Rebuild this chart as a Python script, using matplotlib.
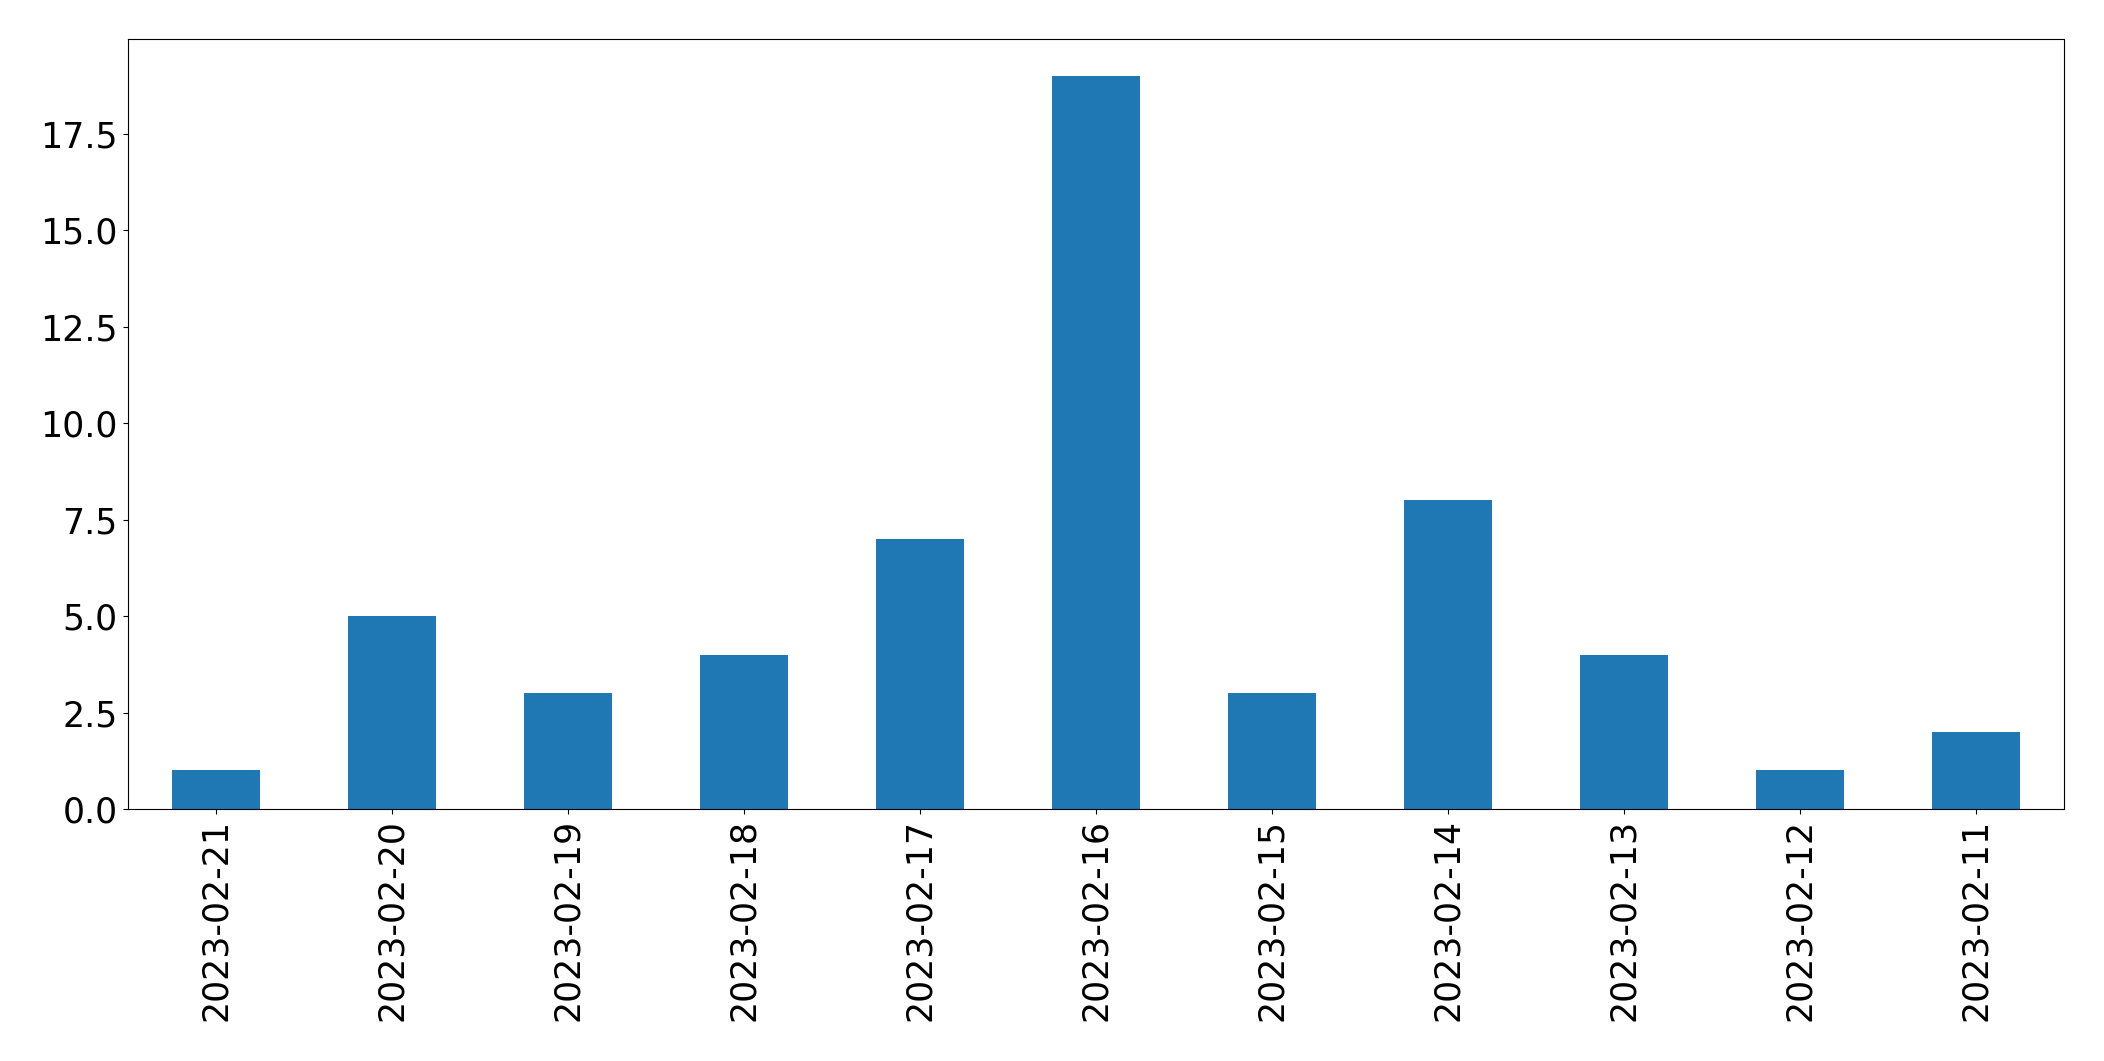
import matplotlib
matplotlib.use("Agg")
import matplotlib.pyplot as plt

dates = ["2023-02-21", "2023-02-20", "2023-02-19", "2023-02-18", "2023-02-17",
         "2023-02-16", "2023-02-15", "2023-02-14", "2023-02-13", "2023-02-12", "2023-02-11"]
counts = [1, 5, 3, 4, 7, 19, 3, 8, 4, 1, 2]

fig = plt.figure(figsize=(21.04, 10.61), dpi=100)
ax = fig.add_axes([0.0606, 0.2375, 0.9204, 0.7255])
x = range(len(dates))
ax.bar(x, counts, width=0.5, color="#1f77b4")
ax.set_xticks(list(x))
ax.set_xticklabels(dates, rotation=90)
ax.set_xlim(-0.5, len(dates) - 0.5)
ax.set_ylim(0, max(counts) * 1.05)
ax.tick_params(axis="both", labelsize=25)
fig.savefig("out.png", dpi=100)
